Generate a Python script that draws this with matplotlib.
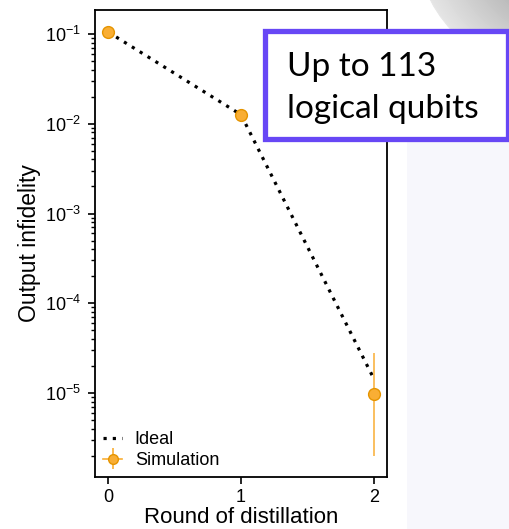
import numpy as np
import matplotlib.pyplot as plt
from matplotlib.patches import Rectangle, Circle
from matplotlib.container import ErrorbarContainer
from matplotlib.legend_handler import HandlerErrorbar

plt.rcParams['font.family'] = ['Liberation Sans', 'DejaVu Sans']

rounds = [0, 1, 2]
ideal = [0.105, 0.0126, 1.45e-5]
sim = [0.105, 0.0126, 9.7e-6]
sim_lo = [0, 0, 9.7e-6 - 2.0e-6]
sim_hi = [0, 0, 2.8e-5 - 9.7e-6]

orange = '#F9AE34'
orange_edge = '#E59400'

fig = plt.figure(figsize=(5.1, 5.29), dpi=100)
fig.patch.set_facecolor('white')

# slide background on the right
fig.add_artist(Rectangle((407 / 510, 0), 103 / 510, 1 - 30 / 529, transform=fig.transFigure,
                         facecolor='#F7F7FC', edgecolor='none', zorder=-2))
# grey sphere in the corner, shaded with rings
n = 40
for i in range(n):
    t = i / (n - 1)
    r = 124 * (1 - 0.45 * t)
    g = 0.90 - 0.17 * t
    fig.add_artist(Circle(((540 + 20 * t) / 510, 1 + (60 - 10 * t) / 529), r / 510,
                          transform=fig.transFigure, facecolor=(g, g, g),
                          edgecolor=(g, g, g), linewidth=0.6, zorder=-1))

ax = fig.add_axes([95 / 510, 1 - 477 / 529, 292 / 510, 467 / 529])
ax.plot(rounds, ideal, color='black', linestyle=(0, (1, 1.9)), linewidth=2.3,
        label='Ideal', zorder=2)
ax.errorbar(rounds, sim, yerr=[sim_lo, sim_hi], fmt='o', color=orange, ecolor=orange,
            markeredgecolor=orange_edge, markersize=8.5, elinewidth=1.1,
            capsize=0, zorder=3)
# legend entry for the simulation (marker with a line through it)
ax.errorbar([np.nan], [np.nan], yerr=[[np.nan], [np.nan]], fmt='-o', color=orange,
            ecolor=orange, markeredgecolor=orange_edge, markersize=7, linewidth=1.2,
            elinewidth=1.2, capsize=0, label='Simulation')

ax.set_yscale('log')
ax.set_ylim(1.16e-6, 0.185)
ax.set_xlim(-0.1, 2.1)
ax.set_xticks(rounds)
ax.set_yticks([1e-1, 1e-2, 1e-3, 1e-4, 1e-5])
ax.tick_params(axis='both', which='major', labelsize=13, length=5, width=1.2,
               direction='out', pad=5)
ax.tick_params(axis='x', which='major', pad=4)
ax.tick_params(axis='y', which='minor', length=3, width=1.0)
for s in ax.spines.values():
    s.set_linewidth(1.3)
ax.set_xlabel('Round of distillation', fontsize=16, labelpad=0.5)
ax.set_ylabel('Output infidelity', fontsize=16.5, labelpad=3)
ax.legend(loc='lower left', frameon=False, fontsize=13, handlelength=1.05,
          handletextpad=0.7, labelspacing=0.2, borderaxespad=0.35, borderpad=0.1,
          handler_map={ErrorbarContainer: HandlerErrorbar(yerr_size=0.6)})

# callout box
fig.add_artist(Rectangle((265 / 510, 1 - 139 / 529), 243 / 510, 108 / 529,
                         transform=fig.transFigure, facecolor='white',
                         edgecolor='#6747F5', linewidth=3.8, zorder=5))
fig.text(287 / 510, 1 - 76 / 529, 'Up to 113', fontsize=24, family='Lato',
         va='baseline', ha='left', zorder=6)
fig.text(287 / 510, 1 - 118 / 529, 'logical qubits', fontsize=24, family='Lato',
         va='baseline', ha='left', zorder=6)

fig.savefig('out.png', dpi=100)
